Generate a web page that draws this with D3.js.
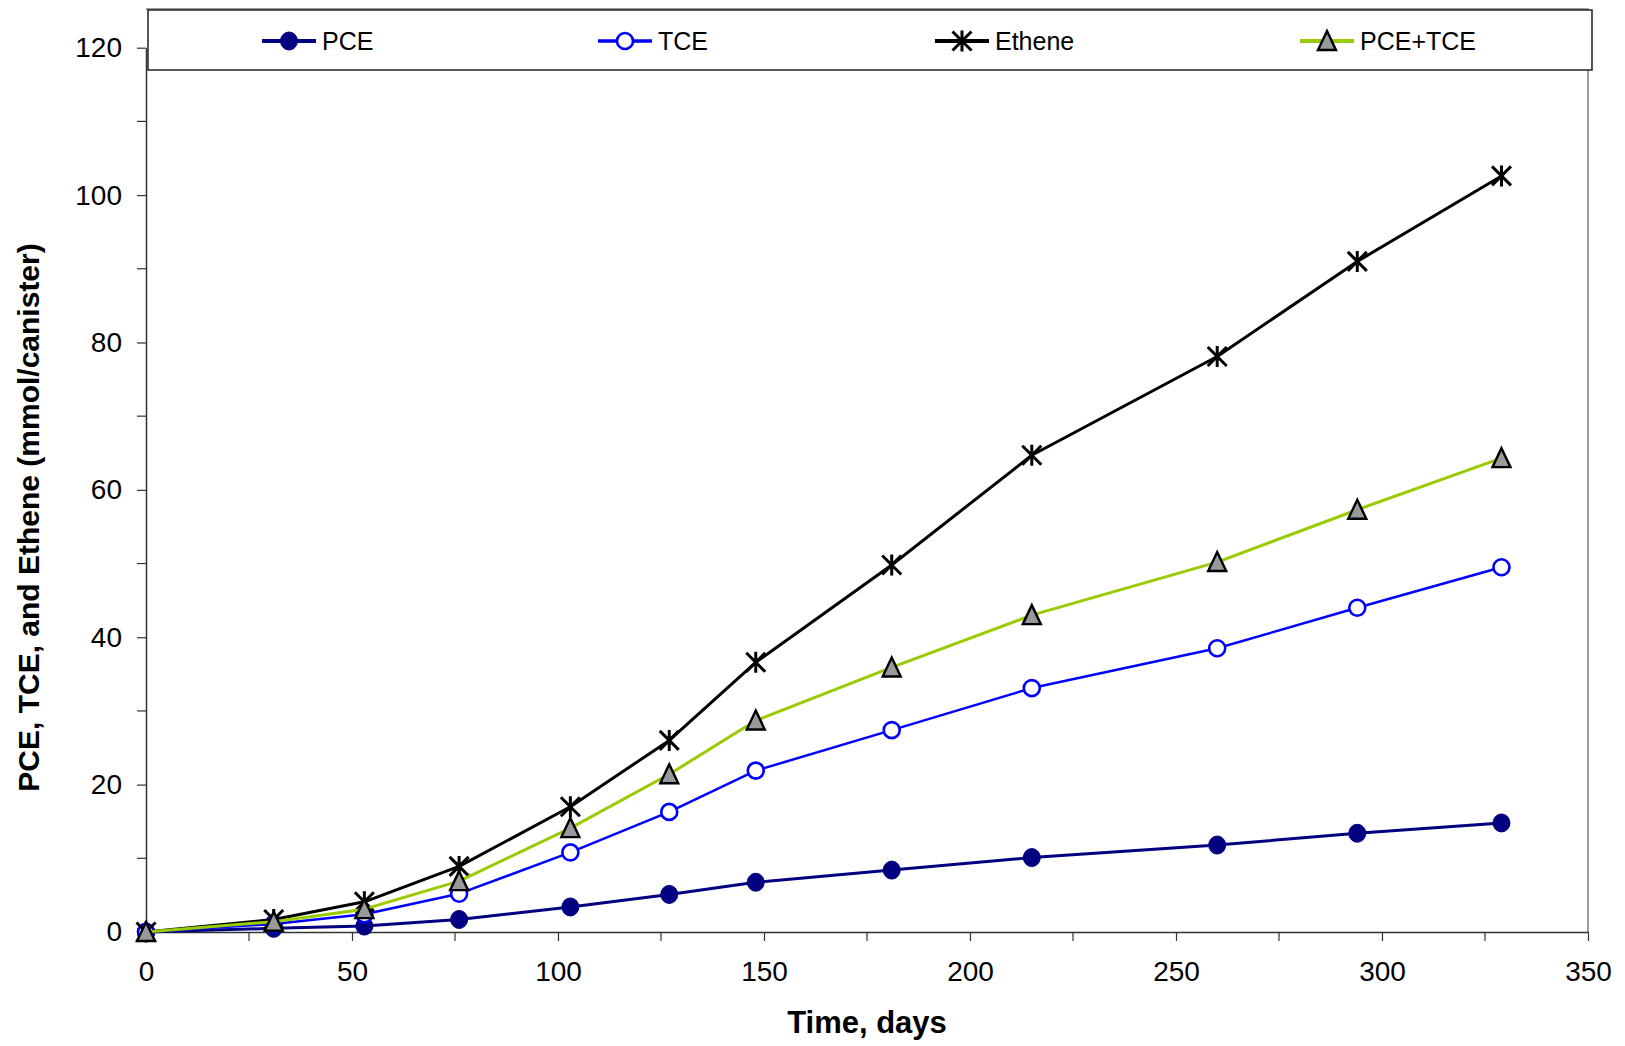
<!DOCTYPE html>
<html>
<head>
<meta charset="utf-8">
<script src="https://cdn.jsdelivr.net/npm/d3@7"></script>
<style>
  html, body { margin: 0; padding: 0; background: #fff; }
  svg { display: block; font-family: "Liberation Sans", Arial, sans-serif; }
</style>
</head>
<body>
<svg id="chart" width="1625" height="1046"></svg>
<script>
// ---------- data ----------
const days    = [0, 31, 53, 76, 103, 127, 148, 181, 215, 260, 294, 329];
const pce     = [0, 0.5, 0.8, 1.7, 3.4, 5.1, 6.75, 8.4, 10.1, 11.8, 13.4, 14.8];
const tce     = [0, 1.1, 2.4, 5.2, 10.8, 16.3, 21.9, 27.4, 33.1, 38.5, 44.0, 49.5];
const ethene  = [0, 1.7, 4.1, 8.9, 17.0, 26.0, 36.6, 49.8, 64.7, 78.1, 91.0, 102.6];
const pceTce  = [0, 1.4, 3.1, 6.9, 14.1, 21.4, 28.7, 35.9, 43.0, 50.2, 57.3, 64.3];
const seriesNames = ["PCE", "TCE", "Ethene", "PCE+TCE"];
const xTicks = [0, 50, 100, 150, 200, 250, 300, 350];
const yTicks = [0, 20, 40, 60, 80, 100, 120];
const xTitle = "Time, days";
const yTitle = "PCE, TCE, and Ethene (mmol/canister)";

// ---------- layout ----------
const svg = d3.select("#chart");
const left = 146, right = 1588, bottom = 932, yTopVal = 47.7, plotTop = 9;
const x = d3.scaleLinear().domain([0, 350]).range([left, right]);
const y = d3.scaleLinear().domain([0, 120]).range([bottom, yTopVal]);
const FONT = 28;

const styles = {
  "PCE":     { line: "#000080", width: 3,   marker: "dot" },
  "TCE":     { line: "#0000FF", width: 2.5, marker: "ring" },
  "Ethene":  { line: "#000000", width: 3,   marker: "star" },
  "PCE+TCE": { line: "#99CC00", width: 3,   marker: "tri" }
};
const seriesValues = { "PCE": pce, "TCE": tce, "Ethene": ethene, "PCE+TCE": pceTce };

// plot area border (top and right)
svg.append("path")
  .attr("d", `M${left},${plotTop}H${right}V${bottom}`)
  .attr("fill", "none").attr("stroke", "#808080").attr("stroke-width", 1.5);

// minor ticks
const minorX = d3.range(25, 350, 50);
svg.append("g").selectAll("line").data(minorX).join("line")
  .attr("x1", d => x(d)).attr("x2", d => x(d))
  .attr("y1", bottom).attr("y2", bottom + 9)
  .attr("stroke", "#333").attr("stroke-width", 1.2);
const minorY = d3.range(10, 120, 20);
svg.append("g").selectAll("line").data(minorY).join("line")
  .attr("y1", d => y(d)).attr("y2", d => y(d))
  .attr("x1", left).attr("x2", left - 9)
  .attr("stroke", "#333").attr("stroke-width", 1.2);

// axes
const xAxis = svg.append("g").attr("transform", `translate(0,${bottom})`)
  .call(d3.axisBottom(x).tickValues(xTicks).tickSize(9).tickPadding(20).tickSizeOuter(0));
const yAxis = svg.append("g").attr("transform", `translate(${left},0)`)
  .call(d3.axisLeft(y).tickValues(yTicks).tickSize(9).tickPadding(15).tickSizeOuter(0));
[xAxis, yAxis].forEach(g => {
  g.select(".domain").attr("stroke", "#333").attr("stroke-width", 1.5);
  g.selectAll(".tick line").attr("stroke", "#333").attr("stroke-width", 1.2);
  g.selectAll(".tick text").attr("font-size", FONT).attr("fill", "#000")
    .attr("font-family", "Liberation Sans, Arial, sans-serif");
});

// axis titles
svg.append("text").attr("x", (left + right) / 2).attr("y", 1033)
  .attr("text-anchor", "middle").attr("font-weight", "bold").attr("font-size", 31)
  .text(xTitle);
svg.append("text").attr("transform", `translate(39,${(247 + 788) / 2}) rotate(-90)`)
  .attr("text-anchor", "middle").attr("font-weight", "bold").attr("font-size", 30)
  .text(yTitle);

// markers
function drawMarker(g, type, cx, cy) {
  if (type === "dot") {
    g.append("ellipse").attr("cx", cx).attr("cy", cy).attr("rx", 8.5).attr("ry", 9)
      .attr("fill", "#000080").attr("stroke", "#000080").attr("stroke-width", 1);
  } else if (type === "ring") {
    g.append("circle").attr("cx", cx).attr("cy", cy).attr("r", 8)
      .attr("fill", "#fff").attr("stroke", "#0000FF").attr("stroke-width", 2.6);
  } else if (type === "star") {
    const s = 9.5;
    g.append("path")
      .attr("d", `M${cx - s},${cy - s}L${cx + s},${cy + s}M${cx - s},${cy + s}L${cx + s},${cy - s}M${cx},${cy - s - 1}L${cx},${cy + s + 1}`)
      .attr("stroke", "#000").attr("stroke-width", 3).attr("fill", "none");
  } else if (type === "tri") {
    const h = 9;
    g.append("path")
      .attr("d", `M${cx},${cy - h - 1}L${cx + h},${cy + h}L${cx - h},${cy + h}Z`)
      .attr("fill", "#999").attr("stroke", "#000").attr("stroke-width", 2.4)
      .attr("stroke-linejoin", "miter");
  }
}

// series
const line = d3.line().x(d => x(d[0])).y(d => y(d[1]));
seriesNames.forEach(name => {
  const st = styles[name];
  const pts = days.map((d, i) => [d, seriesValues[name][i]]);
  const g = svg.append("g");
  g.append("path").attr("d", line(pts)).attr("fill", "none")
    .attr("stroke", st.line).attr("stroke-width", st.width).attr("stroke-linejoin", "round");
  pts.forEach(p => drawMarker(g, st.marker, x(p[0]), y(p[1])));
});

// legend
const lg = svg.append("g");
lg.append("rect").attr("x", 148).attr("y", 10).attr("width", 1592 - 148).attr("height", 60)
  .attr("fill", "#fff").attr("stroke", "#222").attr("stroke-width", 1.5);
const legendCenters = [289, 625, 962, 1327];
seriesNames.forEach((name, i) => {
  const cx = legendCenters[i], cy = 41;
  const st = styles[name];
  lg.append("line").attr("x1", cx - 27).attr("x2", cx + 27).attr("y1", cy).attr("y2", cy)
    .attr("stroke", st.line).attr("stroke-width", st.width + 0.8);
  drawMarker(lg, st.marker, cx, cy);
  lg.append("text").attr("x", cx + 33).attr("y", cy).attr("dy", "0.36em")
    .attr("font-size", 25).text(name);
});
</script>
</body>
</html>
